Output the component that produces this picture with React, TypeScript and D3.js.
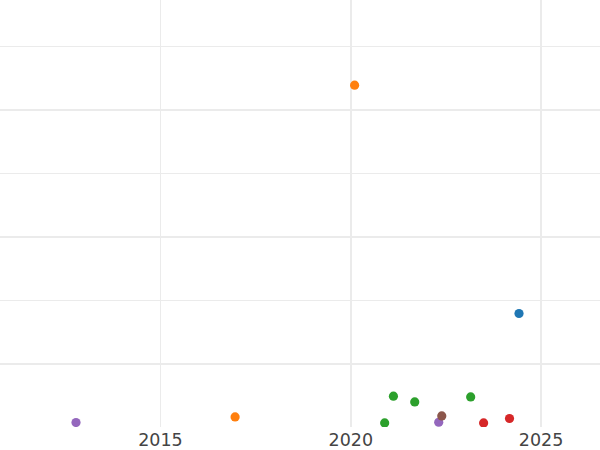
import React from "react";
import * as d3 from "d3";

const W = 600;
const H = 450;

const xTicks = [2015, 2020, 2025];
const yGrid = [10, 20, 30, 40, 50, 60];

const years = [2012.78, 2016.96, 2020.1, 2020.89, 2021.12, 2021.68, 2022.31, 2022.39, 2023.15, 2023.49, 2024.17, 2024.42];
const values = [0.79, 1.67, 53.9, 0.72, 4.93, 4.03, 0.83, 1.83, 4.82, 0.72, 1.42, 17.95];
const groups = ["purple", "orange", "orange", "green", "green", "green", "purple", "brown", "green", "red", "red", "blue"];

const palette: Record<string, string> = {
  blue: "#1f77b4",
  orange: "#ff7f0e",
  green: "#2ca02c",
  red: "#d62728",
  purple: "#9467bd",
  brown: "#8c564b",
};

const gridW = (p: number) => (Math.abs(p - Math.round(p)) < 0.3 ? 2 : 1);

export default function App() {
  const plotBottom = 427.5;
  const x = d3.scaleLinear().domain([2015, 2025]).range([160.5, 541.1]);
  const y = d3.scaleLinear().domain([0, 67.32]).range([plotBottom, 0]);

  return (
    <svg
      width={W}
      height={H}
      style={{ position: "absolute", left: 0, top: 0, background: "#fff" }}
    >
      <defs>
        <clipPath id="plot">
          <rect x={0} y={0} width={W} height={427} />
        </clipPath>
      </defs>
      <g clipPath="url(#plot)">
        {xTicks.map((t) => {
          const p = x(t);
          const w = gridW(p);
          const pp = w === 2 ? Math.round(p) : Math.floor(p) + 0.5;
          return <line key={"vx" + t} x1={pp} x2={pp} y1={0} y2={plotBottom} stroke="#ebebeb" strokeWidth={w} />;
        })}
        {yGrid.map((t) => {
          const p = y(t);
          const w = gridW(p);
          const pp = w === 2 ? Math.round(p) : Math.floor(p) + 0.5;
          return <line key={"hy" + t} x1={0} x2={W} y1={pp} y2={pp} stroke="#ebebeb" strokeWidth={w} />;
        })}
        {years.map((yr, i) => (
          <circle key={i} cx={x(yr)} cy={y(values[i])} r={4.6} fill={palette[groups[i]]} />
        ))}
      </g>
      {xTicks.map((t) => (
        <text
          key={"lx" + t}
          x={x(t)}
          y={446}
          textAnchor="middle"
          fontFamily="DejaVu Sans"
          fontSize={17.5}
          fill="#444"
        >
          {t}
        </text>
      ))}
    </svg>
  );
}
